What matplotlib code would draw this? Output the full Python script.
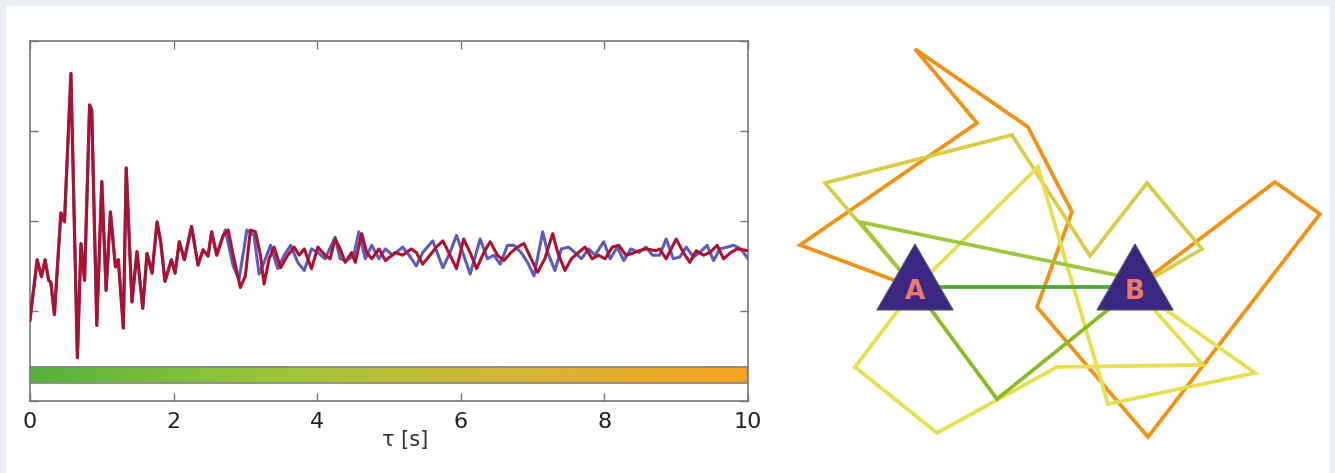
# Correlation curve (left) and route network between two stations (right).

import matplotlib
matplotlib.use('Agg')
import matplotlib.pyplot as plt
import numpy as np
from matplotlib.colors import LinearSegmentedColormap
from matplotlib.patches import Rectangle, RegularPolygon

# ---- left panel data: shared start of both curves (tau in s) ----
tau_early = [0.00, 0.10, 0.16, 0.21, 0.26, 0.29, 0.34, 0.43, 0.48, 0.57, 0.66, 0.71, 0.76,
             0.83, 0.86, 0.93, 1.00, 1.06, 1.12, 1.19, 1.23, 1.30, 1.34, 1.42, 1.49, 1.57,
             1.63, 1.70, 1.77, 1.82, 1.88, 1.97, 2.02, 2.08, 2.15, 2.25, 2.34, 2.41, 2.48,
             2.53, 2.60]
sig_early = [0.90, 1.57, 1.38, 1.57, 1.34, 1.32, 0.96, 2.09, 1.99, 3.64, 0.48, 1.75, 1.34,
             3.29, 3.23, 0.84, 2.44, 1.23, 2.10, 1.49, 1.57, 0.81, 2.59, 1.10, 1.66, 1.03,
             1.64, 1.42, 1.99, 1.77, 1.33, 1.57, 1.42, 1.77, 1.57, 1.94, 1.51, 1.68, 1.61,
             1.88, 1.62]

# red curve after tau = 2.6
tau_red = [2.69, 2.76, 2.83, 2.93, 3.00, 3.07, 3.14, 3.21, 3.26, 3.33, 3.40, 3.49, 3.59,
           3.68, 3.75, 3.82, 3.92, 4.01, 4.11, 4.18, 4.25, 4.32, 4.39, 4.48, 4.53, 4.62,
           4.69, 4.76, 4.86, 4.95, 5.09, 5.19, 5.31, 5.38, 5.47, 5.57, 5.66, 5.75, 5.85,
           5.94, 6.04, 6.13, 6.22, 6.32, 6.41, 6.51, 6.60, 6.70, 6.79, 6.88, 6.98, 7.07,
           7.17, 7.28, 7.35, 7.45, 7.54, 7.64, 7.73, 7.83, 7.92, 8.01, 8.11, 8.20, 8.30,
           8.39, 8.48, 8.58, 8.72, 8.77, 8.86, 9.00, 9.10, 9.19, 9.28, 9.38, 9.47, 9.57,
           9.66, 9.76, 9.85, 10.00]
sig_red = [1.84, 1.90, 1.62, 1.26, 1.39, 1.90, 1.88, 1.62, 1.30, 1.58, 1.71, 1.48, 1.62,
           1.71, 1.62, 1.69, 1.47, 1.71, 1.62, 1.58, 1.80, 1.69, 1.54, 1.65, 1.54, 1.86,
           1.65, 1.58, 1.69, 1.56, 1.65, 1.62, 1.69, 1.65, 1.52, 1.62, 1.71, 1.78, 1.62,
           1.47, 1.80, 1.65, 1.47, 1.65, 1.77, 1.62, 1.56, 1.65, 1.71, 1.75, 1.58, 1.43,
           1.58, 1.86, 1.65, 1.45, 1.58, 1.65, 1.71, 1.58, 1.62, 1.58, 1.71, 1.73, 1.62,
           1.64, 1.67, 1.69, 1.67, 1.69, 1.58, 1.80, 1.65, 1.54, 1.67, 1.62, 1.65, 1.73,
           1.58, 1.65, 1.69, 1.67]

# blue curve after tau = 2.6
tau_blue = [2.72, 2.83, 2.91, 2.98, 3.02, 3.12, 3.19, 3.26, 3.35, 3.45, 3.54, 3.63, 3.73,
            3.82, 3.92, 4.01, 4.11, 4.25, 4.32, 4.41, 4.51, 4.58, 4.67, 4.76, 4.86, 4.95,
            5.05, 5.19, 5.28, 5.38, 5.47, 5.61, 5.75, 5.85, 5.94, 6.04, 6.13, 6.27, 6.37,
            6.46, 6.55, 6.65, 6.74, 6.84, 6.93, 7.02, 7.14, 7.21, 7.31, 7.40, 7.50, 7.59,
            7.68, 7.78, 7.87, 7.99, 8.08, 8.18, 8.27, 8.37, 8.48, 8.58, 8.67, 8.77, 8.86,
            8.96, 9.05, 9.14, 9.24, 9.33, 9.43, 9.52, 9.61, 9.71, 9.80, 9.90, 10.00]
sig_blue = [1.90, 1.50, 1.35, 1.69, 1.90, 1.84, 1.41, 1.54, 1.73, 1.47, 1.62, 1.73, 1.54,
            1.45, 1.69, 1.65, 1.58, 1.82, 1.58, 1.56, 1.62, 1.88, 1.58, 1.73, 1.58, 1.69,
            1.62, 1.71, 1.62, 1.50, 1.65, 1.78, 1.48, 1.65, 1.84, 1.62, 1.41, 1.80, 1.58,
            1.62, 1.52, 1.73, 1.73, 1.65, 1.54, 1.39, 1.88, 1.65, 1.45, 1.69, 1.71, 1.65,
            1.58, 1.69, 1.62, 1.77, 1.58, 1.71, 1.56, 1.69, 1.65, 1.71, 1.62, 1.62, 1.80,
            1.58, 1.60, 1.71, 1.60, 1.65, 1.73, 1.56, 1.69, 1.71, 1.73, 1.69, 1.58]

x_ticks = [0, 2, 4, 6, 8, 10]

# ---- right panel data: stations and routes (pixel positions of the drawing) ----
station_names = ['A', 'B']
station_x = [915, 1135]
station_y = [288, 288]

route_orange_x = [915, 800, 977, 915, 1028, 1072, 1037, 1148, 1320, 1275, 1135]
route_orange_y = [288, 245, 123, 49, 127, 212, 307, 437, 214, 182, 288]
route_olive_x = [915, 825, 1012, 1090, 1147, 1202, 1135]
route_olive_y = [288, 183, 135, 256, 183, 249, 288]
route_yellow1_x = [915, 1038, 1108, 1255, 1135]
route_yellow1_y = [288, 167, 404, 373, 288]
route_yellow2_x = [915, 855, 937, 1057, 1203, 1135]
route_yellow2_y = [288, 367, 433, 367, 365, 288]
route_lime1_x = [915, 860, 1135]
route_lime1_y = [288, 222, 279]
route_lime2_x = [915, 997, 1135]
route_lime2_y = [288, 399, 288]
route_green_x = [915, 1135]
route_green_y = [287, 287]

routes = [
    (route_orange_x, route_orange_y, '#f29112'),
    (route_olive_x, route_olive_y, '#dccb46'),
    (route_yellow1_x, route_yellow1_y, '#e9df4e'),
    (route_yellow2_x, route_yellow2_y, '#e9df4e'),
    (route_lime1_x, route_lime1_y, '#9cc83e'),
    (route_lime2_x, route_lime2_y, '#86be22'),
    (route_green_x, route_green_y, '#4caa32'),
]

W, H = 1335, 473
fig = plt.figure(figsize=(W / 100, H / 100), dpi=100, facecolor='#e9eef7')

# background panel + network drawing in pixel coordinates
net = fig.add_axes([0, 0, 1, 1], zorder=0)
net.set_xlim(0, W)
net.set_ylim(H, 0)
net.axis('off')
net.add_patch(Rectangle((6, 6), 1324, 470, facecolor='white', edgecolor='none', zorder=0))

for xs, ys, c in routes:
    net.plot(xs, ys, color=c, lw=2.7, solid_joinstyle='miter', solid_capstyle='butt', zorder=2)

for name, sx, sy in zip(station_names, station_x, station_y):
    net.add_patch(RegularPolygon((sx, sy), 3, radius=44, orientation=np.pi,
                                 facecolor='#3b2681', edgecolor='#55556a', lw=0.8, zorder=5))
    net.text(sx, sy + 11, name, ha='center', va='baseline', color='#ec7a6c',
             fontsize=19, fontweight='bold', zorder=6)

# left axes
ax = fig.add_axes([30 / W, 72 / H, 718 / W, 360 / H], zorder=1)
ax.set_facecolor('white')

# colour bar along the bottom
bar_cmap = LinearSegmentedColormap.from_list('bar', ['#52b23a', '#9cc63a', '#d4b43a', '#f6a21f'])
ax.imshow(np.linspace(0, 1, 256)[None, :], cmap=bar_cmap, extent=[0, 10, 0.2, 0.378],
          aspect='auto', zorder=1)
ax.add_patch(Rectangle((0, 0.2), 10, 0.178, fill=False, edgecolor='#8a8a8a', lw=1.3, zorder=2))

ax.plot(tau_early + tau_blue, sig_early + sig_blue, color='#5c5cbe', lw=2.2, zorder=3)
ax.plot(tau_early + tau_red, sig_early + sig_red, color='#ae1030', lw=2.2, zorder=4)

ax.set_xlim(0, 10)
ax.set_ylim(0, 4)
ax.set_xticks(x_ticks)
ax.set_yticks([0, 1, 2, 3, 4])
ax.tick_params(direction='in', top=True, right=True, length=6, width=1, color='#777777',
               labelleft=False, labelsize=16, labelcolor='#222222', pad=8)
for s in ax.spines.values():
    s.set_color('#7a7a7a')
    s.set_linewidth(1.2)

ax.set_xlabel('τ [s]', fontsize=15, color='#333333', va='top')
ax.xaxis.set_label_coords(0.522, -0.08)

plt.savefig('out.png', dpi=100, facecolor=fig.get_facecolor())
plt.close()
